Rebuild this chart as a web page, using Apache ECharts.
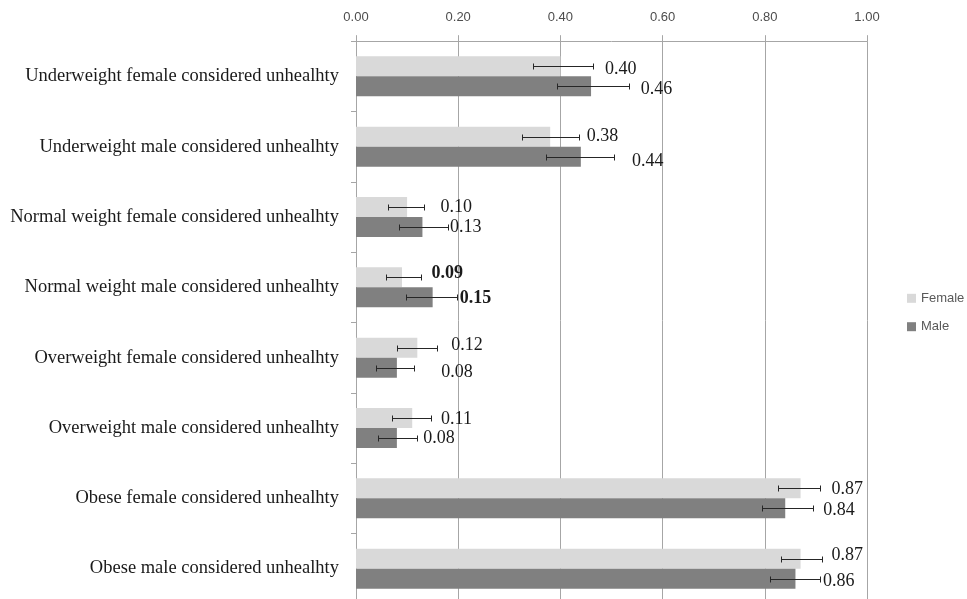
<!DOCTYPE html>
<html>
<head>
<meta charset="utf-8">
<script src="https://cdn.jsdelivr.net/npm/echarts@6/dist/echarts.min.js"></script>
<style>
  html, body { margin: 0; padding: 0; background: #ffffff; }
  #chart { width: 967px; height: 599px; }
</style>
</head>
<body>
<div id="chart"></div>
<script>
// Share of respondents rating each body-weight vignette as unhealthy, by respondent sex
const categories = [
  'Underweight female considered unhealhty',
  'Underweight male considered unhealhty',
  'Normal weight female considered unhealhty',
  'Normal weight male considered unhealhty',
  'Overweight female considered unhealhty',
  'Overweight male considered unhealhty',
  'Obese female considered unhealhty',
  'Obese male considered unhealhty'
];
const seriesNames = ['Female', 'Male'];

const femaleValues = [0.40, 0.38, 0.10, 0.09, 0.12, 0.11, 0.87, 0.87];
const maleValues   = [0.46, 0.44, 0.13, 0.15, 0.08, 0.08, 0.84, 0.86];

// Confidence interval bounds
const femaleErrLow  = [0.347, 0.324, 0.062, 0.059, 0.080, 0.071, 0.825, 0.832];
const femaleErrHigh = [0.464, 0.436, 0.134, 0.128, 0.159, 0.147, 0.909, 0.911];
const maleErrLow    = [0.394, 0.371, 0.085, 0.097, 0.039, 0.044, 0.794, 0.811];
const maleErrHigh   = [0.534, 0.505, 0.180, 0.197, 0.114, 0.120, 0.895, 0.909];

// Category whose value labels are set in bold
const boldCategory = 'Normal weight male considered unhealhty';

// Hand-placed value labels: [gap after the whisker end, vertical nudge] in px
const femaleLabelShift = [[12, 3], [8, 0], [16, 0], [10, -4], [14, -2], [10, 1], [11, 0.5], [10, -3]];
const maleLabelShift   = [[12, 2.5], [18, 5], [2, 0], [3, 1], [27, 5], [6, 0], [10, 2], [2.5, 2.7]];

const BAR_W = 20;
const colors = { Female: '#d9d9d9', Male: '#808080' };
const serif = '"Liberation Serif", "DejaVu Serif", serif';
const sans = '"Liberation Sans", Arial, sans-serif';

function whiskerData(values, lows, highs, shifts) {
  return categories.map((c, i) => [i, lows[i], highs[i], values[i], shifts[i][0], shifts[i][1]]);
}

function makeWhiskerRender(sign) {
  return function (params, api) {
    const idx = api.value(0);
    const lo = api.coord([api.value(1), idx]);
    const hi = api.coord([api.value(2), idx]);
    const y = Math.round(lo[1] + sign * BAR_W / 2) + 0.5;
    const x1 = Math.round(lo[0]) + 0.5;
    const x2 = Math.round(hi[0]) + 0.5;
    const cap = 3;
    const lineStyle = { stroke: '#262626', lineWidth: 1 };
    const val = api.value(3);
    const gap = api.value(4);
    const dy = api.value(5);
    const bold = categories[idx] === boldCategory;
    return {
      type: 'group',
      children: [
        { type: 'line', shape: { x1: x1, y1: y, x2: x2, y2: y }, style: lineStyle },
        { type: 'line', shape: { x1: x1, y1: y - cap, x2: x1, y2: y + cap }, style: lineStyle },
        { type: 'line', shape: { x1: x2, y1: y - cap, x2: x2, y2: y + cap }, style: lineStyle },
        {
          type: 'text',
          x: hi[0] + gap,
          y: lo[1] + sign * BAR_W / 2 + dy,
          style: {
            text: val.toFixed(2),
            fill: '#1a1a1a',
            font: (bold ? 'bold ' : '') + '18px ' + serif,
            align: 'left',
            verticalAlign: 'middle'
          }
        }
      ]
    };
  };
}

const chart = echarts.init(document.getElementById('chart'), null, { renderer: 'canvas' });

chart.setOption({
  animation: false,
  backgroundColor: '#ffffff',
  grid: {
    left: 356, top: 41.2, width: 511, height: 562.6,
    containLabel: false,
    outerBoundsMode: 'none'
  },
  legend: {
    data: seriesNames,
    orient: 'vertical',
    left: 907,
    top: 291.8,
    padding: 0,
    itemWidth: 9,
    itemHeight: 9,
    itemGap: 15.4,
    icon: 'rect',
    selectedMode: false,
    textStyle: { fontFamily: sans, fontSize: 13, color: '#595959', lineHeight: 13, padding: [0, 0, 0, 0] }
  },
  xAxis: {
    type: 'value',
    position: 'top',
    min: 0,
    max: 1,
    interval: 0.2,
    axisLine: { show: true, lineStyle: { color: '#a6a6a6', width: 1 } },
    axisTick: { show: true, length: 6, lineStyle: { color: '#a6a6a6' } },
    axisLabel: {
      margin: 17,
      fontFamily: sans,
      fontSize: 13,
      color: '#4d4d4d',
      formatter: v => v.toFixed(2)
    },
    splitLine: { show: true, lineStyle: { color: '#a6a6a6', width: 1 } }
  },
  yAxis: {
    type: 'category',
    data: categories,
    inverse: true,
    axisLine: { show: true, lineStyle: { color: '#a6a6a6', width: 1 } },
    axisTick: { show: true, length: 5, lineStyle: { color: '#a6a6a6' } },
    axisLabel: {
      margin: 17,
      fontFamily: serif,
      fontSize: 18.5,
      color: '#1a1a1a',
      padding: [5, 0, 0, 0]
    },
    splitLine: { show: false }
  },
  series: [
    {
      name: 'Female',
      type: 'bar',
      data: femaleValues,
      barWidth: BAR_W,
      barGap: '0%',
      itemStyle: { color: colors.Female },
      z: 2
    },
    {
      name: 'Male',
      type: 'bar',
      data: maleValues,
      barWidth: BAR_W,
      barGap: '0%',
      itemStyle: { color: colors.Male },
      z: 2
    },
    {
      name: 'Female CI',
      type: 'custom',
      renderItem: makeWhiskerRender(-1),
      data: whiskerData(femaleValues, femaleErrLow, femaleErrHigh, femaleLabelShift),
      encode: { x: [1, 2], y: 0 },
      z: 5,
      silent: true
    },
    {
      name: 'Male CI',
      type: 'custom',
      renderItem: makeWhiskerRender(1),
      data: whiskerData(maleValues, maleErrLow, maleErrHigh, maleLabelShift),
      encode: { x: [1, 2], y: 0 },
      z: 5,
      silent: true
    }
  ]
});
</script>
</body>
</html>
